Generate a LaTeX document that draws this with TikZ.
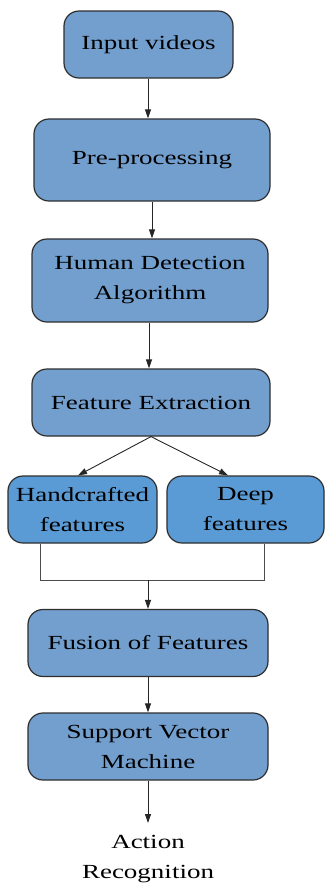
\documentclass[tikz,border=0pt]{standalone}
\usepackage{fontspec}
\setmainfont{Liberation Serif}[FakeStretch=1.35]
\usetikzlibrary{arrows.meta,calc}
\definecolor{boxblue}{HTML}{739FCF}
\definecolor{featblue}{HTML}{5B9BD5}
\definecolor{edge}{HTML}{2E2E2E}
\tikzset{
  stage/.style={draw=edge, line width=1.2pt, fill=boxblue, rounded corners=15pt,
    align=center, inner sep=0pt, font=\fontsize{20}{30}\selectfont},
  featbox/.style={stage, fill=featblue},
  flow/.style={draw=black!85, line width=0.9pt, -{Triangle[width=6pt,length=9pt]}},
  link/.style={draw=black!70, line width=0.8pt}
}
\begin{document}
\begin{tikzpicture}[x=1pt,y=-1pt]
\useasboundingbox (0,0) rectangle (325,884);
\node[stage, minimum width=169pt, minimum height=67pt] (in) at (148.5,44.5) {Input videos};
\node[stage, minimum width=236pt, minimum height=82pt] (pre) at (152,160) {Pre-processing};
\node[stage, minimum width=236pt, minimum height=83pt] (hd) at (150,280.5) {Human Detection\\Algorithm};
\node[stage, minimum width=238pt, minimum height=67pt] (fe) at (151,402.5) {Feature Extraction};
\node[featbox, minimum width=149pt, minimum height=67pt] (hc) at (82.5,509.5) {Handcrafted\\features};
\node[featbox, minimum width=157pt, minimum height=67pt] (dp) at (245.5,509.5) {Deep\\features};
\node[stage, minimum width=240pt, minimum height=67pt] (fu) at (148,643) {Fusion of Features};
\node[stage, minimum width=240pt, minimum height=67pt] (svm) at (148,746.5) {Support Vector\\Machine};
\node[align=center, inner sep=0pt, font=\fontsize{20}{30}\selectfont] (act) at (148,859) {Action\\Recognition};

\coordinate (merge) at (148,580);
\coordinate (result) at (148,823);

\draw[flow] ([xshift=-0.5pt]in.south) -- ([xshift=-0.5pt]in.south |- pre.north);
\draw[flow] (pre.south) -- (pre.south |- hd.north);
\draw[flow] ([xshift=-1pt]hd.south) -- ([xshift=-1pt]hd.south |- fe.north);
\draw[flow] (fe.south) -- ([xshift=-4.5pt]hc.north);
\draw[flow] (fe.south) -- ([xshift=-17.5pt]dp.north);
\draw[link] ([xshift=-42.5pt]hc.south) |- (merge);
\draw[link] ([xshift=18.5pt]dp.south) |- (merge);
\draw[flow] (merge) -- (fu.north);
\draw[flow] (fu.south) -- (svm.north);
\draw[flow] (svm.south) -- (result);
\end{tikzpicture}
\end{document}
